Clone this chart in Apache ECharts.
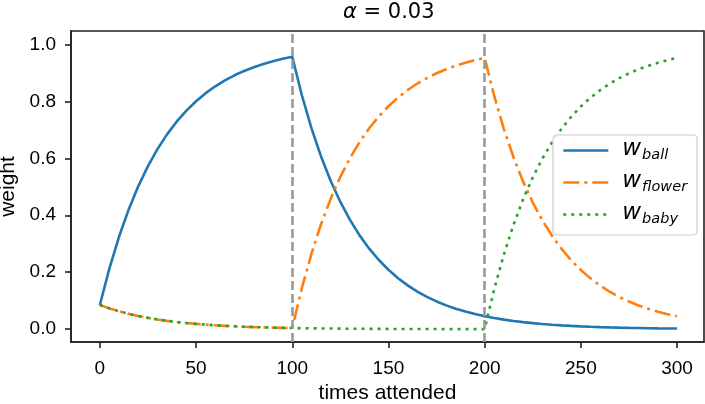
<!DOCTYPE html>
<html lang="en">
<head>
    <meta charset="utf-8" />
    <title>alpha = 0.03</title>
    <script type="text/javascript" src="https://cdn.jsdelivr.net/npm/echarts@6/dist/echarts.min.js"></script>
    <style>
        html, body { margin: 0; background: #FFFFFF; }
        #chart { width: 705px; height: 404px; }
    </style>
</head>
<body>
<div id="chart"></div>
<script>
// times attended (x)
var times = [0, 5, 10, 15, 20, 25, 30, 35, 40, 45, 50, 55, 60, 65, 70, 75, 80, 85, 90, 95, 100,
    105, 110, 115, 120, 125, 130, 135, 140, 145, 150, 155, 160, 165, 170, 175, 180, 185, 190, 195, 200,
    205, 210, 215, 220, 225, 230, 235, 240, 245, 250, 255, 260, 265, 270, 275, 280, 285, 290, 295, 300]

var wBall = [0.085, 0.2143, 0.3253, 0.4206, 0.5024, 0.5727, 0.6331, 0.6849, 0.7294, 0.7676, 0.8005,
    0.8287, 0.8529, 0.8736, 0.8915, 0.9068, 0.9200, 0.9313, 0.9410, 0.9493, 0.9565,
    0.8214, 0.7053, 0.6057, 0.5201, 0.4467, 0.3836, 0.3294, 0.2828, 0.2429, 0.2086,
    0.1791, 0.1538, 0.1321, 0.1134, 0.0974, 0.0836, 0.0718, 0.0617, 0.0530, 0.0455,
    0.0391, 0.0336, 0.0288, 0.0247, 0.0212, 0.0182, 0.0157, 0.0135, 0.0116, 0.0099,
    0.0085, 0.0073, 0.0063, 0.0054, 0.0046, 0.0040, 0.0034, 0.0029, 0.0025, 0.0022]

var wFlower = [0.085, 0.0730, 0.0627, 0.0538, 0.0462, 0.0397, 0.0341, 0.0293, 0.0251, 0.0216, 0.0185,
    0.0159, 0.0137, 0.0117, 0.0101, 0.0087, 0.0074, 0.0064, 0.0055, 0.0047, 0.0040,
    0.1447, 0.2655, 0.3693, 0.4584, 0.5349, 0.6006, 0.6570, 0.7055, 0.7471, 0.7828,
    0.8135, 0.8398, 0.8625, 0.8819, 0.8986, 0.9129, 0.9252, 0.9358, 0.9448, 0.9526,
    0.8180, 0.7025, 0.6032, 0.5180, 0.4448, 0.3820, 0.3280, 0.2817, 0.2419, 0.2077,
    0.1784, 0.1532, 0.1315, 0.1130, 0.0970, 0.0833, 0.0715, 0.0614, 0.0528, 0.0453]

var wBaby = [0.085, 0.0730, 0.0627, 0.0538, 0.0462, 0.0397, 0.0341, 0.0293, 0.0251, 0.0216, 0.0185,
    0.0159, 0.0137, 0.0117, 0.0101, 0.0087, 0.0074, 0.0064, 0.0055, 0.0047, 0.0040,
    0.0034, 0.0029, 0.0025, 0.0022, 0.0019, 0.0016, 0.0014, 0.0012, 0.0010, 0.0009,
    0.0007, 0.0006, 0.0006, 0.0005, 0.0004, 0.0003, 0.0003, 0.0003, 0.0002, 0.0002,
    0.1414, 0.2627, 0.3669, 0.4563, 0.5331, 0.5991, 0.6557, 0.7043, 0.7461, 0.7820,
    0.8128, 0.8392, 0.8619, 0.8814, 0.8982, 0.9126, 0.9249, 0.9355, 0.9446, 0.9525]

var xTicks = [0, 50, 100, 150, 200, 250, 300]
var yTicks = [0, 0.2, 0.4, 0.6, 0.8, 1.0]
var switchPoints = [100, 200]
var seriesNames = ['ball', 'flower', 'baby']

function pairs(ys) {
    return times.map(function (t, i) { return [t, ys[i]] })
}

var axisColor = '#222222'
var tickFont = 'Liberation Sans'
var lw = 2.6

var chart = echarts.init(document.getElementById('chart'), null, { renderer: 'canvas' })

chart.setOption({
    animation: false,
    backgroundColor: '#FFFFFF',
    title: {
        text: '{a|α}{b| = 0.03}',
        left: 338,
        top: -3,
        textStyle: {
            rich: {
                a: { fontFamily: 'DejaVu Sans', fontStyle: 'italic', fontWeight: 'normal', fontSize: 21, color: '#000' },
                b: { fontFamily: 'DejaVu Sans', fontWeight: 'normal', fontSize: 21, color: '#000' }
            }
        }
    },
    grid: {
        left: 71, right: 1, top: 31, bottom: 62,
        outerBoundsMode: 'none',
        containLabel: false,
        show: true,
        borderColor: axisColor,
        borderWidth: 1.6,
        backgroundColor: 'transparent'
    },
    legend: {
        orient: 'vertical',
        left: 553,
        top: 135,
        width: 142,
        padding: [3, 10, 8, 9],
        itemGap: 7,
        itemWidth: 45,
        itemHeight: 14,
        backgroundColor: 'rgba(255,255,255,0.85)',
        borderColor: '#cccccc',
        borderWidth: 1.2,
        borderRadius: 4,
        itemStyle: { opacity: 0 },
        lineStyle: { width: lw },
        data: seriesNames,
        formatter: function (name) { return '{sp|}{w|w}{sub|' + name + '}' },
        textStyle: {
            rich: {
                sp: { width: 9 },
                w: { fontFamily: 'DejaVu Sans', fontStyle: 'italic', fontSize: 23, color: '#000', verticalAlign: 'top' },
                sub: { fontFamily: 'DejaVu Sans', fontStyle: 'italic', fontSize: 14.5, color: '#000', verticalAlign: 'top', padding: [10, 0, 0, 1] }
            }
        }
    },
    xAxis: {
        type: 'value',
        min: -15,
        max: 314,
        name: 'times attended',
        nameLocation: 'middle',
        nameGap: 36,
        nameTextStyle: { fontFamily: tickFont, fontSize: 21, color: '#000' },
        splitLine: { show: false },
        axisLine: { show: true, onZero: false, lineStyle: { color: axisColor, width: 1.6 } },
        axisTick: { show: true, length: 6, customValues: xTicks, lineStyle: { color: axisColor, width: 1.6 } },
        axisLabel: { customValues: xTicks, margin: 17, fontFamily: tickFont, fontSize: 19, color: '#000' }
    },
    yAxis: {
        type: 'value',
        min: -0.045,
        max: 1.047,
        name: 'weight',
        nameLocation: 'middle',
        nameGap: 45,
        nameTextStyle: { fontFamily: tickFont, fontSize: 21, color: '#000' },
        splitLine: { show: false },
        axisLine: { show: true, onZero: false, lineStyle: { color: axisColor, width: 1.6 } },
        axisTick: { show: true, length: 6, customValues: yTicks, lineStyle: { color: axisColor, width: 1.6 } },
        axisLabel: {
            customValues: yTicks, margin: 15, fontFamily: tickFont, fontSize: 19, color: '#000',
            formatter: function (v) { return v.toFixed(1) }
        }
    },
    series: [
        {
            name: 'ball',
            type: 'line',
            data: pairs(wBall),
            symbol: 'none',
            lineStyle: { color: '#1f77b4', width: lw, type: 'solid' },
            itemStyle: { color: '#1f77b4' },
            markLine: {
                silent: true,
                symbol: 'none',
                label: { show: false },
                lineStyle: { color: '#999999', width: lw, type: [9, 4] },
                data: switchPoints.map(function (x) { return { xAxis: x } })
            }
        },
        {
            name: 'flower',
            type: 'line',
            data: pairs(wFlower),
            symbol: 'none',
            lineStyle: { color: '#ff7f0e', width: lw, type: [16, 5, 3, 5] },
            itemStyle: { color: '#ff7f0e' }
        },
        {
            name: 'baby',
            type: 'line',
            data: pairs(wBaby),
            symbol: 'none',
            lineStyle: { color: '#2ca02c', width: lw, type: [3, 5] },
            itemStyle: { color: '#2ca02c' }
        }
    ]
})
</script>
</body>
</html>
